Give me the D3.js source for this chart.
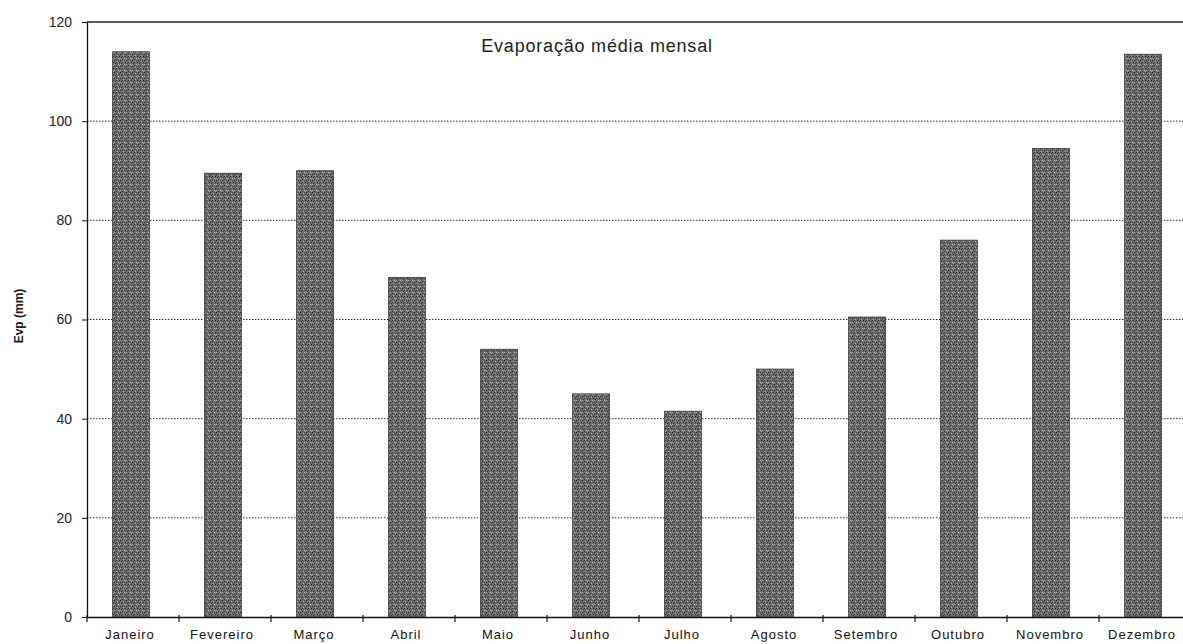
<!DOCTYPE html>
<html><head><meta charset="utf-8">
<script src="https://cdn.jsdelivr.net/npm/d3@7"></script>
<style>
body{margin:0;background:#fff;}
svg{display:block;font-family:"Liberation Sans",Arial,sans-serif;}
</style></head>
<body><svg id="c" width="1183" height="644"></svg>
<script>
const months = ["Janeiro","Fevereiro","Março","Abril","Maio","Junho","Julho","Agosto","Setembro","Outubro","Novembro","Dezembro"];
const evaporation = [114, 89.5, 90, 68.5, 54, 45, 41.5, 50, 60.5, 76, 94.5, 113.5];
const yTicks = [0, 20, 40, 60, 80, 100, 120];
const title = "Evaporação média mensal";
const yLabel = "Evp (mm)";

(function(){
const svg = d3.select("#c");
const mLeft = 87, mTop = 22, mBottom = 617, mRight = 1191;

const x = d3.scaleBand().domain(months).range([mLeft, mRight]).paddingInner(0.6).paddingOuter(0.3);
const y = d3.scaleLinear().domain([0, 120]).range([mBottom, mTop]);

// texture pattern
const defs = svg.append("defs");
const pat = defs.append("pattern").attr("id","tex").attr("patternUnits","userSpaceOnUse")
  .attr("width",6).attr("height",6);
pat.append("rect").attr("width",6).attr("height",6).attr("fill","#6c6c6c");
const dots = [[0,0,"#262626"],[3,1,"#b0b0b0"],[1,3,"#303030"],[4,4,"#bcbcbc"],[2,5,"#3a3a3a"],[5,2,"#2a2a2a"],[0,4,"#a0a0a0"],[4,0,"#454545"],[2,2,"#3c3c3c"],[5,5,"#999"]];
dots.forEach(d=>pat.append("rect").attr("x",d[0]).attr("y",d[1]).attr("width",1).attr("height",1).attr("fill",d[2]));

// gridlines (dotted)
svg.append("g").selectAll("line").data(yTicks.filter(t=>t>0 && t<120)).join("line")
  .attr("x1",mLeft).attr("x2",1183).attr("y1",d=>y(d)).attr("y2",d=>y(d))
  .attr("stroke","#333").attr("stroke-width",1).attr("stroke-dasharray","1.5,1.5");
// top border
svg.append("line").attr("x1",mLeft).attr("x2",1183).attr("y1",y(120)).attr("y2",y(120))
  .attr("stroke","#222").attr("stroke-width",1.3);

// bars
svg.append("g").selectAll("rect").data(evaporation).join("rect")
  .attr("x",(d,i)=>x(months[i]) - 2).attr("width",x.bandwidth())
  .attr("y",d=>y(d)).attr("height",d=>y(0)-y(d))
  .attr("fill","url(#tex)").attr("stroke","#3a3a3a").attr("stroke-width",0.8);

// y axis
const yAxis = d3.axisLeft(y).tickValues(yTicks).tickSize(5).tickSizeOuter(0).tickPadding(10);
const gy = svg.append("g").attr("transform",`translate(${mLeft},0)`).call(yAxis);
gy.select(".domain").attr("stroke","#111").attr("stroke-width",1.3);
gy.selectAll(".tick line").attr("stroke","#111");
gy.selectAll("text").attr("font-size",14).attr("fill","#222").attr("font-family","Liberation Sans, Arial, sans-serif");

// x axis
const xAxis = d3.axisBottom(x).tickSize(0).tickPadding(13);
const gx = svg.append("g").attr("transform",`translate(0,${mBottom})`).call(xAxis);
gx.select(".domain").attr("stroke","#111").attr("stroke-width",1.3);
gx.selectAll("text").attr("font-size",13).attr("letter-spacing","1px").attr("fill","#111")
  .attr("dx",-3).attr("font-family","Liberation Sans, Arial, sans-serif");
// tick marks at band boundaries
const step = x.step();
const bounds = d3.range(months.length).map(i => x(months[i]) - x.paddingOuter()*step);
svg.append("g").selectAll("line").data(bounds).join("line")
  .attr("x1",d=>d).attr("x2",d=>d).attr("y1",mBottom-2).attr("y2",mBottom+5)
  .attr("stroke","#111").attr("stroke-width",1.2);

// title
svg.append("text").attr("x",597).attr("y",52).attr("text-anchor","middle")
  .attr("font-size",18).attr("letter-spacing","0.8px").attr("fill","#222").text(title);

// y label
svg.append("text").attr("transform","translate(23,316) rotate(-90)").attr("text-anchor","middle")
  .attr("font-size",12).attr("font-weight","bold").attr("font-family","Liberation Sans Narrow, Liberation Sans, sans-serif")
  .attr("fill","#222").text(yLabel);
})();
</script></body></html>
